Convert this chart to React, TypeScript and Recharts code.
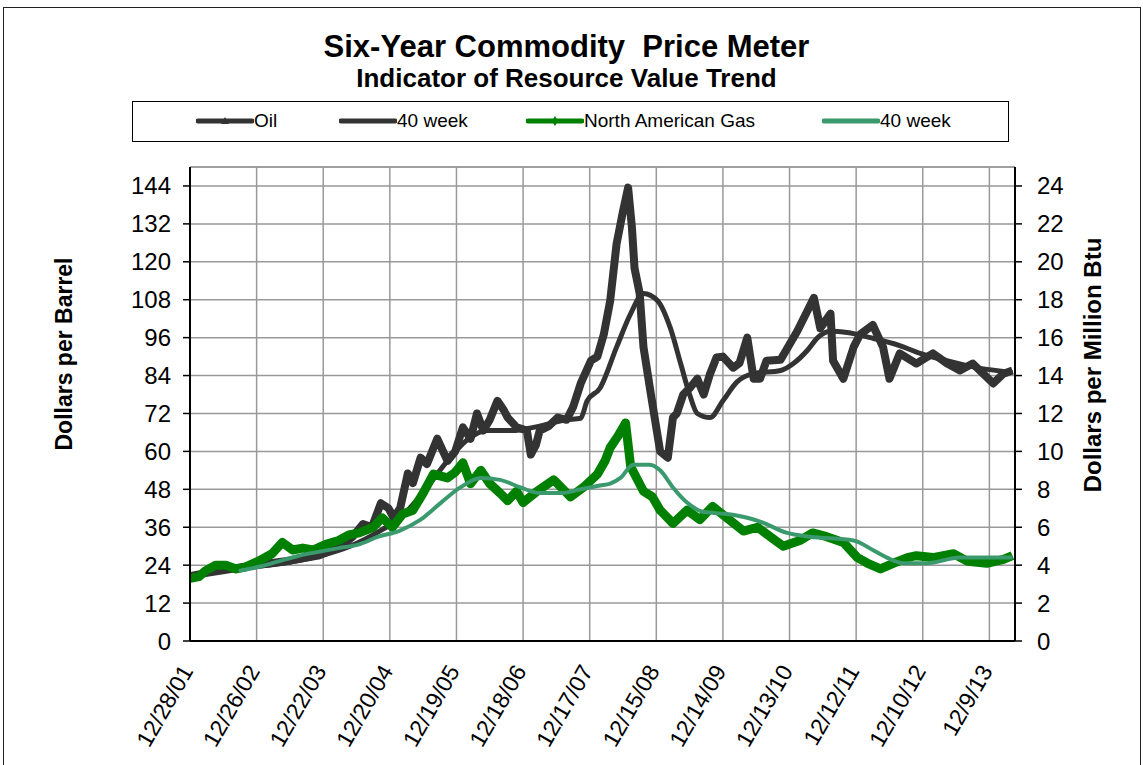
import { CartesianGrid, Line, LineChart, ReferenceLine, XAxis, YAxis } from "recharts";

const dateLabels = [
  "12/28/01", "12/26/02", "12/22/03", "12/20/04", "12/19/05", "12/18/06", "12/17/07",
  "12/15/08", "12/14/09", "12/13/10", "12/12/11", "12/10/12", "12/9/13",
];
const weekTicks = dateLabels.map((_, i) => i * 52);
const barrelTicks = [0, 12, 24, 36, 48, 60, 72, 84, 96, 108, 120, 132, 144];
const btuTicks = [0, 2, 4, 6, 8, 10, 12, 14, 16, 18, 20, 22, 24];

// weeks since 12/28/01, $/barrel
const oilWeeks = [
  0, 12, 28, 43, 61, 79, 100, 118, 127, 135, 142, 149, 155, 159, 164, 170, 174, 180, 185, 193,
  201, 207, 213, 219, 224, 229, 234, 240, 245, 248, 255, 263, 266, 270, 273, 280, 287, 294, 299, 305,
  313, 318, 323, 328, 333, 338, 342, 345, 347, 351, 354, 359, 363, 367, 373, 377, 380, 385, 390, 396,
  401, 406, 411, 416, 424, 429, 435, 440, 445, 450, 461, 474, 482, 487, 492, 500, 502, 510, 518, 523,
  533, 541, 546, 554, 567, 580, 591, 601, 611, 627, 635, 642,
];
const oilPrice = [
  20.5, 21.5, 22.5, 23.5, 24.5, 25.5, 27, 30, 33, 37, 36, 43.6, 42, 39, 42, 53, 50, 58, 56, 64,
  57, 60, 67.6, 64, 72, 66.6, 70, 76, 73, 70.7, 67.6, 66.6, 59, 62, 66.6, 68, 70.7, 70, 74, 81.5,
  88.7, 90, 97, 107.7, 125.7, 136, 143.5, 130.7, 118, 110, 93, 80, 70, 60, 58, 70.7, 72, 78, 80, 83,
  78, 84.6, 89.7, 90, 86.5, 88, 96, 83, 83, 88.7, 89, 98, 104.5, 108.6, 99, 103.6, 88.7, 83, 93, 97,
  100, 93, 83, 91, 87.8, 91, 87.8, 85.6, 87.8, 81.5, 84.6, 85.6,
];

const oilAvgWeeks = [
  40, 61, 86, 102, 125, 149, 164, 180, 201, 216, 232, 252, 268, 294, 305, 310, 320, 333, 344, 354,
  365, 375, 383, 390, 396, 406, 416, 427, 440, 461, 471, 482, 490, 500, 513, 531, 554, 570, 591, 614, 642,
];
const oilAvg = [
  23.5, 24, 25.5, 27, 30, 35, 39, 46, 57, 63.5, 66.6, 66.6, 67.6, 70, 70.5, 76, 80, 93, 103.6, 110,
  107.7, 99, 87.8, 78, 72, 70.7, 76, 82, 84.6, 85.6, 87.8, 92, 96, 98, 97.6, 96, 93.5, 91, 88.7, 86.5, 85,
];

// $/million Btu
const gasWeeks = [
  0, 7, 12, 20, 28, 36, 43, 53, 64, 72, 80, 88, 96, 106, 116, 124, 132, 143, 150, 158,
  166, 174, 182, 190, 201, 207, 213, 219, 227, 234, 242, 248, 255, 260, 271, 284, 297, 307, 318, 324,
  328, 334, 340, 344, 354, 361, 367, 377, 388, 398, 408, 419, 432, 443, 455, 463, 476, 486, 497, 510,
  521, 529, 539, 549, 560, 567, 580, 596, 607, 622, 635, 642,
];
const gasPrice = [
  3.3, 3.4, 3.7, 4.0, 4.0, 3.8, 3.9, 4.2, 4.6, 5.2, 4.8, 4.9, 4.8, 5.1, 5.3, 5.6, 5.7, 6.0, 6.5, 6.0,
  6.7, 6.9, 7.8, 8.8, 8.6, 8.9, 9.4, 8.3, 9.0, 8.3, 7.8, 7.4, 7.9, 7.3, 7.9, 8.5, 7.6, 8.1, 8.8, 9.5,
  10.2, 10.8, 11.5, 9.2, 7.9, 7.6, 6.9, 6.2, 6.9, 6.4, 7.1, 6.5, 5.8, 6.0, 5.4, 5.0, 5.3, 5.7, 5.5, 5.2,
  4.4, 4.1, 3.8, 4.1, 4.4, 4.5, 4.4, 4.6, 4.2, 4.1, 4.3, 4.5,
];

const gasAvgWeeks = [
  38, 53, 69, 85, 100, 116, 132, 147, 163, 180, 196, 211, 227, 242, 258, 273, 289, 305, 320, 328,
  336, 346, 359, 367, 377, 388, 401, 419, 435, 445, 466, 484, 518, 533, 544, 557, 575, 601, 627, 642,
];
const gasAvg = [
  3.7, 3.9, 4.2, 4.5, 4.7, 4.9, 5.1, 5.5, 5.8, 6.4, 7.3, 8.1, 8.6, 8.5, 8.1, 7.8, 7.8, 8.0, 8.2, 8.3,
  8.6, 9.3, 9.3, 9.0, 8.1, 7.3, 6.8, 6.7, 6.5, 6.3, 5.7, 5.5, 5.3, 4.8, 4.4, 4.1, 4.1, 4.4, 4.4, 4.4,
];

const toRows = (weeks: number[], vals: number[]) => weeks.map((w, i) => ({ week: w, v: vals[i] }));

const OIL = "#333333";
const GAS = "#008000";
const GAS_AVG = "#3a9a6e";
const FONT = "'Liberation Sans', Arial, sans-serif";

const legendItems = [
  { name: "Oil", color: OIL, left: 63, marker: "tri" },
  { name: "40 week", color: OIL, left: 206, marker: "" },
  { name: "North American Gas", color: GAS, left: 393, marker: "dia" },
  { name: "40 week", color: GAS_AVG, left: 689, marker: "" },
];

function LegendBox() {
  return (
    <div
      style={{
        position: "absolute",
        left: 132,
        top: 101,
        width: 875,
        height: 39,
        border: "1px solid #000",
        background: "#fff",
        fontFamily: FONT,
        fontSize: 19,
      }}
    >
      {legendItems.map((it) => (
        <div
          key={it.name + it.left}
          style={{ position: "absolute", left: it.left, top: 8, display: "flex", alignItems: "center" }}
        >
          <svg width={58} height={22}>
            <line x1={2} y1={11} x2={56} y2={11} stroke={it.color} strokeWidth={5} strokeLinecap="round" />
            {it.marker === "tri" && <path d="M29 7 L33 14 L25 14 Z" fill={it.color} />}
            {it.marker === "dia" && <path d="M29 6 L32 11 L29 16 L26 11 Z" fill={it.color} />}
          </svg>
          <span>{it.name}</span>
        </div>
      ))}
    </div>
  );
}

function DateTick(props: any) {
  const { x, y, payload } = props;
  const label = dateLabels[Math.round(payload.value / 52)];
  return (
    <g transform={`translate(${x + 4},${y + 22})`}>
      <text textAnchor="end" transform="rotate(-60)" fontSize={23} fill="#000" fontFamily={FONT}>
        {label}
      </text>
    </g>
  );
}

const axisTitle = (cx: number, cy: number, size: number): React.CSSProperties => ({
  position: "absolute",
  left: cx,
  top: cy,
  transform: "translate(-50%, -50%) rotate(-90deg)",
  whiteSpace: "nowrap",
  fontFamily: FONT,
  fontWeight: "bold",
  fontSize: size,
});

export default function App() {
  return (
    <div style={{ position: "fixed", left: 0, top: 0, width: 1143, height: 765, overflow: "hidden", background: "#fff" }}>
      <div
        style={{
          position: "absolute",
          left: 3,
          top: 7,
          width: 1136,
          height: 800,
          border: "1px solid #222",
        }}
      />
      <div
        style={{
          position: "absolute",
          left: 0,
          width: 1133,
          top: 29,
          textAlign: "center",
          fontFamily: FONT,
          fontWeight: "bold",
          fontSize: 31,
          lineHeight: "36px",
        }}
      >
        Six-Year Commodity&nbsp; Price Meter
      </div>
      <div
        style={{
          position: "absolute",
          left: 0,
          width: 1133,
          top: 63,
          textAlign: "center",
          fontFamily: FONT,
          fontWeight: "bold",
          fontSize: 26,
          lineHeight: "30px",
        }}
      >
        Indicator of Resource Value Trend
      </div>
      <div style={axisTitle(64, 354, 23)}>Dollars per Barrel</div>
      <div style={axisTitle(1093, 365, 24)}>Dollars per Million Btu</div>

      <div style={{ position: "absolute", left: 0, top: 0 }}>
        <LineChart width={1143} height={765} margin={{ top: 167, right: 58, bottom: 94, left: 120 }}>
          <CartesianGrid yAxisId="left" stroke="#999" strokeWidth={1.5} />
          <XAxis
            dataKey="week"
            type="number"
            height={30}
            domain={[0, 644]}
            ticks={weekTicks}
            allowDuplicatedCategory={false}
            tick={<DateTick />}
            tickLine={false}
            axisLine={{ stroke: "#000", strokeWidth: 2 }}
            interval={0}
          />
          <YAxis
            yAxisId="left"
            width={70}
            domain={[0, 150]}
            ticks={barrelTicks}
            interval={0}
            tickSize={7}
            tickMargin={12}
            tick={{ fill: "#000", fontSize: 24, fontFamily: FONT }}
            tickLine={{ stroke: "#000", strokeWidth: 1.5 }}
            axisLine={{ stroke: "#000", strokeWidth: 2 }}
          />
          <YAxis
            yAxisId="right"
            orientation="right"
            width={70}
            domain={[0, 25]}
            ticks={btuTicks}
            interval={0}
            tickSize={7}
            tickMargin={15}
            tick={{ fill: "#000", fontSize: 24, fontFamily: FONT, textAnchor: "start" }}
            tickLine={{ stroke: "#000", strokeWidth: 1.5 }}
            axisLine={{ stroke: "#000", strokeWidth: 2 }}
          />
          <ReferenceLine yAxisId="left" y={150} stroke="#999" strokeWidth={1.5} />
          <Line
            yAxisId="left"
            data={toRows(oilWeeks, oilPrice)}
            dataKey="v"
            name="Oil"
            type="linear"
            stroke={OIL}
            strokeWidth={8}
            strokeLinejoin="round"
            dot={false}
            isAnimationActive={false}
          />
          <Line
            yAxisId="left"
            data={toRows(oilAvgWeeks, oilAvg)}
            dataKey="v"
            name="40 week"
            type="monotone"
            stroke={OIL}
            strokeWidth={5}
            dot={false}
            isAnimationActive={false}
          />
          <Line
            yAxisId="right"
            data={toRows(gasWeeks, gasPrice)}
            dataKey="v"
            name="North American Gas"
            type="linear"
            stroke={GAS}
            strokeWidth={9}
            strokeLinejoin="round"
            dot={false}
            isAnimationActive={false}
          />
          <Line
            yAxisId="right"
            data={toRows(gasAvgWeeks, gasAvg)}
            dataKey="v"
            name="40 week gas"
            type="monotone"
            stroke={GAS_AVG}
            strokeWidth={4}
            dot={false}
            isAnimationActive={false}
          />
        </LineChart>
      </div>
      <LegendBox />
    </div>
  );
}
